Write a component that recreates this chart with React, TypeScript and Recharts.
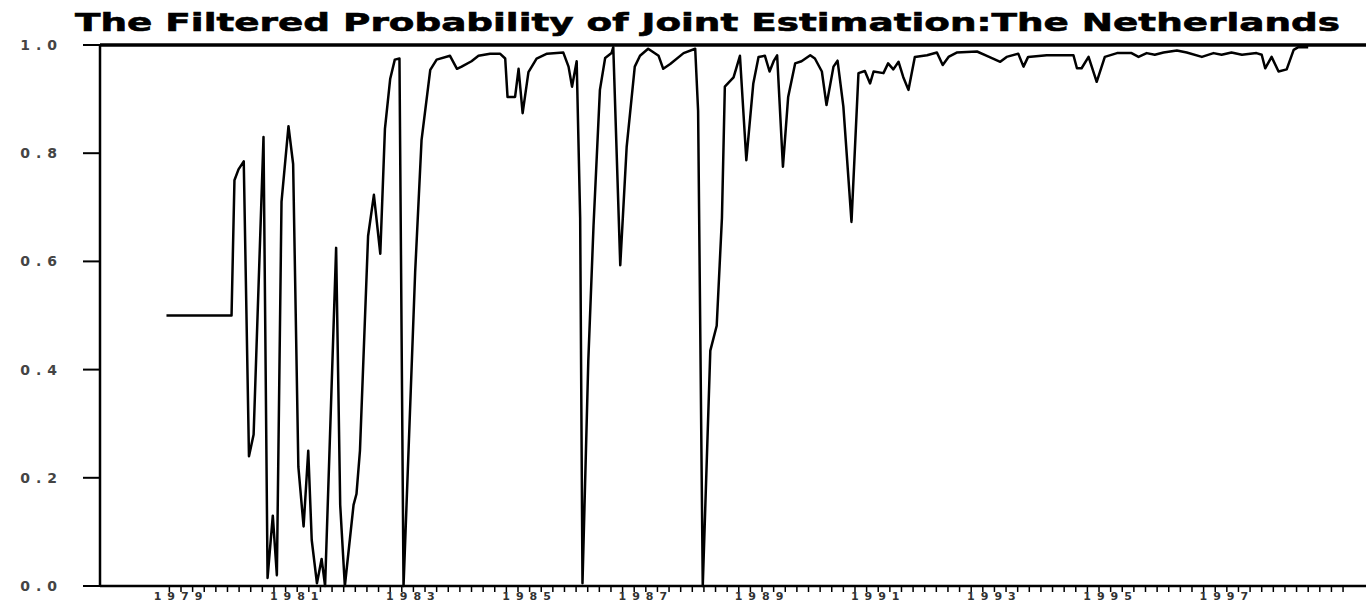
import React from 'react';
import { LineChart, Line, XAxis, YAxis, ReferenceLine } from 'recharts';

const TITLE = 'The Filtered Probability of Joint Estimation:The Netherlands';

// time of each vertex (decimal years)
const years: number[] = [
  1978.75, 1979.87, 1979.92, 1979.99, 1980.08, 1980.17, 1980.25, 1980.42, 1980.49, 1980.58,
  1980.65, 1980.73, 1980.85, 1980.93, 1981.02, 1981.11, 1981.19, 1981.25, 1981.34, 1981.42,
  1981.48, 1981.67, 1981.74, 1981.82, 1981.97, 1982.02, 1982.08, 1982.22, 1982.32, 1982.43,
  1982.51, 1982.6, 1982.68, 1982.76, 1982.83, 1983.03, 1983.14, 1983.29, 1983.4, 1983.63,
  1983.75, 1983.83, 1984.0, 1984.12, 1984.32, 1984.49, 1984.58, 1984.62, 1984.75, 1984.81,
  1984.88, 1984.98, 1985.12, 1985.3, 1985.58, 1985.67, 1985.73, 1985.81, 1985.87, 1985.91,
  1986.01, 1986.1, 1986.21, 1986.3, 1986.41, 1986.44, 1986.56, 1986.67, 1986.81, 1986.9,
  1987.04, 1987.22, 1987.3, 1987.42, 1987.65, 1987.85, 1987.9, 1987.98, 1988.11, 1988.22,
  1988.31, 1988.36, 1988.51, 1988.62, 1988.73, 1988.85, 1988.94, 1989.05, 1989.13, 1989.2,
  1989.26, 1989.36, 1989.45, 1989.57, 1989.68, 1989.83, 1989.91, 1990.03, 1990.11, 1990.23,
  1990.3, 1990.4, 1990.54, 1990.66, 1990.77, 1990.86, 1990.92, 1991.09, 1991.17, 1991.26,
  1991.35, 1991.43, 1991.52, 1991.63, 1991.84, 1992.01, 1992.11, 1992.21, 1992.35, 1992.7,
  1992.87, 1993.1, 1993.21, 1993.41, 1993.5, 1993.58, 1993.9, 1994.13, 1994.36, 1994.42,
  1994.5, 1994.62, 1994.76, 1994.9, 1995.11, 1995.36, 1995.48, 1995.62, 1995.76, 1995.91,
  1996.14, 1996.31, 1996.57, 1996.77, 1996.91, 1997.08, 1997.26, 1997.51, 1997.6, 1997.66,
  1997.77, 1997.89, 1998.03, 1998.15, 1998.23, 1998.4,
];

// filtered probability at each vertex
const probs: number[] = [
  0.5, 0.5, 0.75, 0.77, 0.785, 0.24, 0.28, 0.83, 0.015, 0.13,
  0.02, 0.71, 0.85, 0.78, 0.22, 0.11, 0.25, 0.085, 0.005, 0.05,
  0.0, 0.625, 0.15, 0.0, 0.15, 0.17, 0.25, 0.647, 0.723, 0.614,
  0.845, 0.937, 0.973, 0.975, 0.0, 0.58, 0.824, 0.954, 0.973, 0.98,
  0.956, 0.96, 0.97, 0.98, 0.984, 0.984, 0.975, 0.904, 0.904, 0.956,
  0.874, 0.95, 0.975, 0.984, 0.986, 0.96, 0.923, 0.97, 0.68, 0.005,
  0.416, 0.666, 0.917, 0.976, 0.985, 0.996, 0.593, 0.811, 0.96, 0.98,
  0.993, 0.98, 0.956, 0.965, 0.985, 0.993, 0.878, 0.0, 0.435, 0.481,
  0.68, 0.923, 0.94, 0.98, 0.787, 0.929, 0.978, 0.98, 0.951, 0.97,
  0.981, 0.775, 0.904, 0.966, 0.97, 0.981, 0.975, 0.951, 0.889, 0.96,
  0.971, 0.886, 0.673, 0.948, 0.952, 0.929, 0.951, 0.948, 0.966, 0.955,
  0.969, 0.941, 0.917, 0.978, 0.981, 0.986, 0.963, 0.978, 0.986, 0.988,
  0.98, 0.969, 0.978, 0.984, 0.96, 0.978, 0.981, 0.981, 0.981, 0.957,
  0.957, 0.978, 0.932, 0.978, 0.985, 0.985, 0.978, 0.985, 0.982, 0.986,
  0.99, 0.986, 0.978, 0.985, 0.982, 0.986, 0.982, 0.985, 0.982, 0.957,
  0.978, 0.951, 0.955, 0.991, 0.996, 0.996,
];

const labelYears: number[] = [1979, 1981, 1983, 1985, 1987, 1989, 1991, 1993, 1995, 1997];
const yTicks: number[] = [0, 0.2, 0.4, 0.6, 0.8, 1.0];

const X_MIN = 1977.606;
const X_MAX = 1999.395;
const MINOR_FIRST = 1978.8;
const MINOR_LAST = 1999.0;
const MINOR_STEP = 0.2;

const xTicks: number[] = [];
for (let v = MINOR_FIRST; v <= MINOR_LAST + 1e-6; v += MINOR_STEP) {
  xTicks.push(Math.round(v * 10) / 10);
}

const data = years.map((t, i) => ({ t, p: probs[i] }));

const fmtX = (v: number) => {
  const r = Math.round(v);
  if (Math.abs(v - r) < 1e-6 && labelYears.includes(r)) return String(r);
  return '';
};

export default function App() {
  return (
    <div
      style={{
        position: 'absolute',
        left: 0,
        top: 0,
        width: 1366,
        height: 603,
        overflow: 'hidden',
        background: '#fff',
      }}
    >
      <svg width={1366} height={40} style={{ position: 'absolute', left: 0, top: 0 }}>
        <text
          x={75}
          y={31}
          textLength={1265}
          lengthAdjust="spacingAndGlyphs"
          fontFamily="DejaVu Sans"
          fontWeight="bold"
          fontSize={25}
          fill="#000"
          stroke="#000"
          strokeWidth={0.6}
        >
          {TITLE}
        </text>
      </svg>
      <div style={{ position: 'absolute', left: 0, top: 0 }}>
        <LineChart
          width={1366}
          height={603}
          data={data}
          margin={{ top: 45, right: 0, bottom: 0, left: 0 }}
        >
          <XAxis
            dataKey="t"
            type="number"
            domain={[X_MIN, X_MAX]}
            allowDataOverflow
            ticks={xTicks}
            tickFormatter={fmtX}
            interval={0}
            height={17}
            tickSize={6}
            tickMargin={0}
            axisLine={{ stroke: '#000', strokeWidth: 2.5 }}
            tickLine={{ stroke: '#000', strokeWidth: 1.5 }}
            tick={{ fill: '#333', fontSize: 11, fontWeight: 'bold', fontFamily: 'DejaVu Sans', letterSpacing: 6 }}
          />
          <YAxis
            type="number"
            domain={[0, 1]}
            ticks={yTicks}
            interval={0}
            width={100}
            tickSize={17}
            tickMargin={20}
            tickFormatter={(v: number) => v.toFixed(1)}
            axisLine={{ stroke: '#000', strokeWidth: 2.5 }}
            tickLine={{ stroke: '#000', strokeWidth: 2 }}
            tick={{ fill: '#444', fontSize: 14, fontWeight: 'bold', fontFamily: 'DejaVu Sans', letterSpacing: 6 }}
          />
          <ReferenceLine y={1} stroke="#000" strokeWidth={3.5} ifOverflow="visible" />
          <Line
            type="linear"
            dataKey="p"
            stroke="#000"
            strokeWidth={2.5}
            strokeLinejoin="round"
            dot={false}
            activeDot={false}
            isAnimationActive={false}
          />
        </LineChart>
      </div>
    </div>
  );
}
